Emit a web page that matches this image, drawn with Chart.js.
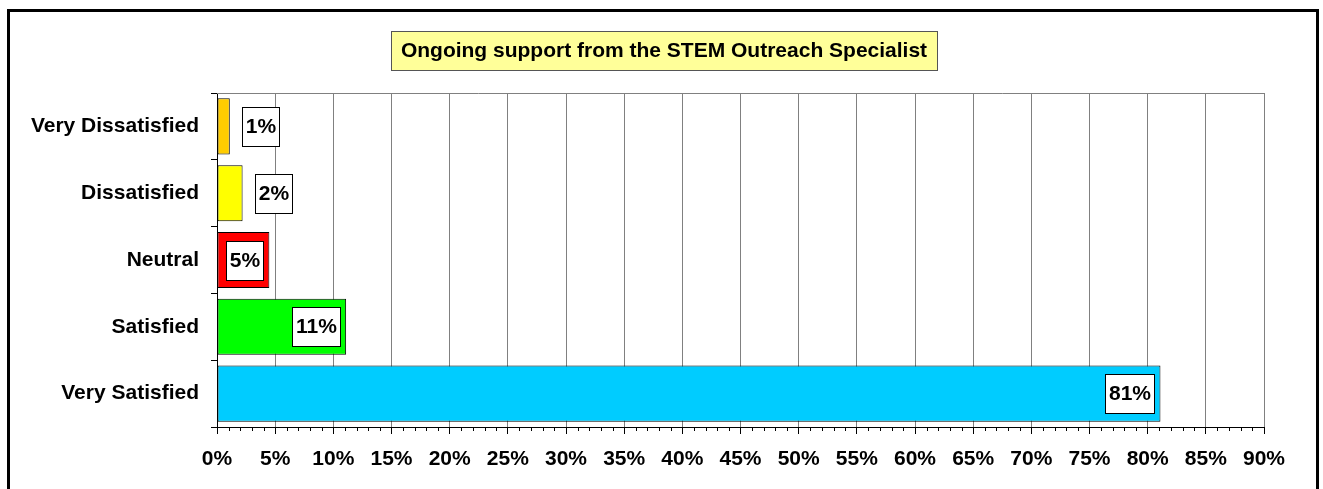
<!DOCTYPE html>
<html>
<head>
<meta charset="utf-8">
<script src="https://cdn.jsdelivr.net/npm/chart.js@4/dist/chart.umd.min.js"></script>
<style>
  body { margin: 0; background: #fff; }
  #wrap { width: 1323px; height: 489px; position: relative; }
</style>
</head>
<body>
<div id="wrap"><canvas id="supportChart" width="1323" height="489"></canvas></div>
<script>
const categories = ['Very Dissatisfied', 'Dissatisfied', 'Neutral', 'Satisfied', 'Very Satisfied'];
const percentValues = [1.1, 2.2, 4.5, 11.1, 81.1];
const barColors = ['#FFCC00', '#FFFF00', '#FF0000', '#00FF00', '#00CCFF'];
const chartTitle = 'Ongoing support from the STEM Outreach Specialist';

const FONT = 'Arial, "Liberation Sans", sans-serif';
const FSIZE = 21;

// frame round the whole chart + title box
const framePlugin = {
    id: 'frame',
    beforeDraw(chart) {
        const ctx = chart.ctx;
        ctx.save();
        ctx.fillStyle = '#fff';
        ctx.fillRect(0, 0, chart.width, chart.height);
        ctx.strokeStyle = '#000';
        ctx.lineWidth = 3;
        ctx.strokeRect(8.5, 10.5, 1309, 500);
        ctx.restore();
    },
    afterDraw(chart) {
        const ctx = chart.ctx;
        ctx.save();
        ctx.font = 'bold ' + FSIZE + 'px ' + FONT;
        const w = Math.round(ctx.measureText(chartTitle).width + 20);
        const cx = 664, top = 31, h = 39;
        const left = Math.round(cx - w / 2);
        ctx.fillStyle = '#FFFF99';
        ctx.fillRect(left, top, w, h);
        ctx.strokeStyle = '#555';
        ctx.lineWidth = 1;
        ctx.strokeRect(left + 0.5, top + 0.5, w, h);
        ctx.fillStyle = '#000';
        ctx.textAlign = 'center';
        ctx.textBaseline = 'middle';
        ctx.fillText(chartTitle, left + w / 2, top + h / 2 + 1);
        ctx.restore();
    }
};

// top border of plot + minor ticks on x axis
const axisPlugin = {
    id: 'axisExtras',
    afterDraw(chart) {
        const ctx = chart.ctx;
        const a = chart.chartArea;
        const x = chart.scales.x;
        ctx.save();
        ctx.strokeStyle = '#808080';
        ctx.lineWidth = 1;
        ctx.beginPath();
        ctx.moveTo(a.left, a.top + 0.5);
        ctx.lineTo(a.right, a.top + 0.5);
        ctx.stroke();
        ctx.strokeStyle = '#000';
        ctx.beginPath();
        for (let v = 0; v <= 90; v++) {
            if (v % 5 === 0) continue;
            const px = Math.round(x.getPixelForValue(v)) + 0.5;
            ctx.moveTo(px, a.bottom);
            ctx.lineTo(px, a.bottom + 4);
        }
        ctx.stroke();
        ctx.restore();
    }
};

// white value boxes at the bar ends
const labelPlugin = {
    id: 'valueBoxes',
    afterDatasetsDraw(chart) {
        const ctx = chart.ctx;
        const meta = chart.getDatasetMeta(0);
        ctx.save();
        ctx.font = 'bold ' + FSIZE + 'px ' + FONT;
        meta.data.forEach((bar, i) => {
            const txt = Math.round(percentValues[i]) + '%';
            const w = Math.round(ctx.measureText(txt).width) + 7;
            const h = 39;
            const barW = bar.x - bar.base;
            let left;
            if (barW >= w + 10) left = bar.x - 6 - w;
            else left = bar.x + 12;
            left = Math.round(left);
            const top = Math.round(bar.y - h / 2);
            ctx.fillStyle = '#fff';
            ctx.fillRect(left, top, w, h);
            ctx.strokeStyle = '#000';
            ctx.lineWidth = 1;
            ctx.strokeRect(left + 0.5, top + 0.5, w, h);
            ctx.fillStyle = '#000';
            ctx.textAlign = 'center';
            ctx.textBaseline = 'middle';
            ctx.fillText(txt, left + w / 2 + 0.5, top + h / 2 + 1);
        });
        ctx.restore();
    }
};

const ctx = document.getElementById('supportChart').getContext('2d');

new Chart(ctx, {
    type: 'bar',
    data: {
        labels: categories,
        datasets: [{
            data: percentValues,
            backgroundColor: barColors,
            borderColor: '#000',
            borderWidth: 1,
            borderSkipped: false,
            categoryPercentage: 1,
            barPercentage: 0.84
        }]
    },
    options: {
        indexAxis: 'y',
        responsive: false,
        animation: false,
        layout: { padding: { left: 0, top: 93, right: 59, bottom: 0 } },
        plugins: {
            legend: { display: false },
            title: { display: false },
            tooltip: { enabled: false }
        },
        scales: {
            x: {
                min: 0,
                max: 90,
                ticks: {
                    stepSize: 5,
                    color: '#000',
                    font: { family: FONT, size: FSIZE, weight: 'bold' },
                    padding: 13,
                    maxRotation: 0,
                    autoSkip: false,
                    callback: v => v + '%'
                },
                grid: {
                    color: '#808080',
                    tickColor: '#000',
                    tickLength: 7,
                    lineWidth: 1
                },
                border: { color: '#000', width: 1 },
                afterFit: s => { s.height = 489 - 427; }
            },
            y: {
                ticks: {
                    color: '#000',
                    font: { family: FONT, size: FSIZE, weight: 'bold' },
                    padding: 12
                },
                grid: {
                    offset: true,
                    drawOnChartArea: false,
                    tickColor: '#000',
                    tickLength: 6
                },
                border: { color: '#000', width: 1 },
                afterFit: s => { s.width = 217; }
            }
        }
    },
    plugins: [framePlugin, axisPlugin, labelPlugin]
});
</script>
</body>
</html>
